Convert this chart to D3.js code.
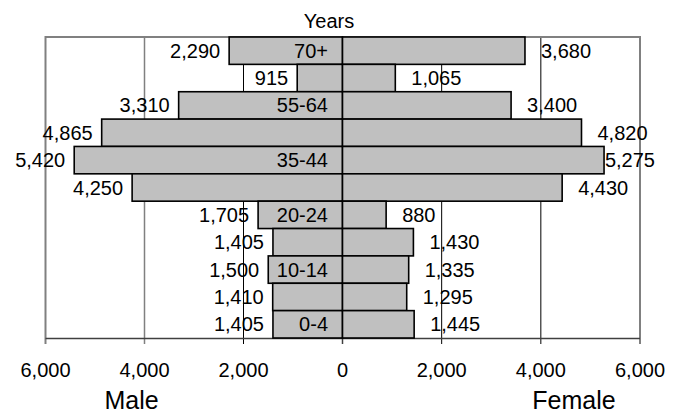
<!DOCTYPE html>
<html>
<head>
<meta charset="utf-8">
<script src="https://cdn.jsdelivr.net/npm/d3@7"></script>
<style>
  html, body { margin: 0; padding: 0; background: #fff; }
  svg { display: block; font-family: "Liberation Sans", Arial, sans-serif; }
</style>
</head>
<body>
<svg id="chart" width="681" height="414"></svg>
<script>
// Age groups, top row first
const ageGroups = ["70+", "65-69", "55-64", "45-54", "35-44", "25-34", "20-24", "15-19", "10-14", "5-9", "0-4"];
const maleValues   = [2290, 915, 3310, 4865, 5420, 4250, 1705, 1405, 1500, 1410, 1405];
const femaleValues = [3680, 1065, 3400, 4820, 5275, 4430, 880, 1430, 1335, 1295, 1445];
const tickValues = [0, 2000, 4000, 6000];

const svg = d3.select("#chart");
const fmt = d3.format(",");

const plotTop = 37, plotBottom = 338;
const xMale = d3.scaleLinear().domain([6000, 0]).range([45.5, 342.5]);
const xFemale = d3.scaleLinear().domain([0, 6000]).range([342.5, 640]);
const y = d3.scaleBand().domain(ageGroups).range([plotTop, plotBottom]).padding(0);

const rows = ageGroups.map((g, i) => ({ group: g, male: maleValues[i], female: femaleValues[i], i }));

// gridlines (the inner ones are black, the 4,000 male line grey)
const grid = svg.append("g");
[2000, 4000].forEach(v => {
  grid.append("line")
    .attr("x1", xMale(v)).attr("x2", xMale(v))
    .attr("y1", plotTop).attr("y2", plotBottom + 6)
    .attr("stroke", v === 4000 ? "#808080" : "#000").attr("stroke-width", v === 4000 ? 1.5 : 1);
  grid.append("line")
    .attr("x1", xFemale(v)).attr("x2", xFemale(v))
    .attr("y1", plotTop).attr("y2", plotBottom + 6)
    .attr("stroke", "#000").attr("stroke-width", 1);
});

// plot frame: grey top and outer edges
const frame = svg.append("g").attr("stroke", "#808080").attr("stroke-width", 2).attr("fill", "none");
frame.append("path").attr("d", `M${xMale(6000)},${plotBottom + 6}V${plotTop}H${xFemale(6000)}V${plotBottom + 6}`);

// bottom axis line and centre tick
const axis = svg.append("g").attr("stroke", "#404040").attr("stroke-width", 1.5);
axis.append("line").attr("x1", xMale(6000)).attr("x2", xFemale(6000)).attr("y1", plotBottom + 0.5).attr("y2", plotBottom + 0.5);
axis.append("line").attr("x1", xMale(0)).attr("x2", xMale(0)).attr("y1", plotBottom).attr("y2", plotBottom + 6);

// bars
const bars = svg.append("g").attr("fill", "#c0c0c0").attr("stroke", "#000").attr("stroke-width", 1.6);
bars.selectAll("rect.m").data(rows).join("rect").attr("class", "m")
  .attr("x", d => xMale(d.male)).attr("width", d => xMale(0) - xMale(d.male))
  .attr("y", d => y(d.group)).attr("height", y.bandwidth());
bars.selectAll("rect.f").data(rows).join("rect").attr("class", "f")
  .attr("x", xFemale(0)).attr("width", d => xFemale(d.female) - xFemale(0))
  .attr("y", d => y(d.group)).attr("height", y.bandwidth());

// value labels
const labels = svg.append("g").attr("font-size", 20).attr("fill", "#000");
labels.selectAll("text.m").data(rows).join("text").attr("class", "m")
  .attr("x", d => xMale(d.male) - 9)
  .attr("y", d => y(d.group) + y.bandwidth() / 2).attr("dy", "0.35em")
  .attr("text-anchor", "end").text(d => fmt(d.male));
labels.selectAll("text.f").data(rows).join("text").attr("class", "f")
  .attr("y", d => y(d.group) + y.bandwidth() / 2).attr("dy", "0.35em")
  .text(d => fmt(d.female))
  .attr("x", function(d) {
    const w = this.getComputedTextLength();
    return Math.min(xFemale(d.female) + 16, 655 - w);
  });

// age group labels, every other one shown
labels.selectAll("text.age").data(rows.filter(d => d.i % 2 === 0)).join("text").attr("class", "age")
  .attr("x", 328).attr("y", d => y(d.group) + y.bandwidth() / 2).attr("dy", "0.35em")
  .attr("text-anchor", "end").text(d => d.group);

// axis tick labels
const tickG = svg.append("g").attr("font-size", 20).attr("text-anchor", "middle");
tickValues.forEach(v => {
  tickG.append("text").attr("x", xMale(v)).attr("y", 377).text(fmt(v));
  if (v > 0) tickG.append("text").attr("x", xFemale(v)).attr("y", 377).text(fmt(v));
});

// titles
svg.append("text").attr("x", 329).attr("y", 28).attr("font-size", 20).attr("text-anchor", "middle").text("Years");
svg.append("text").attr("x", 131.5).attr("y", 409).attr("font-size", 25).attr("text-anchor", "middle").text("Male");
svg.append("text").attr("x", 574).attr("y", 409).attr("font-size", 25).attr("text-anchor", "middle").text("Female");
</script>
</body>
</html>
